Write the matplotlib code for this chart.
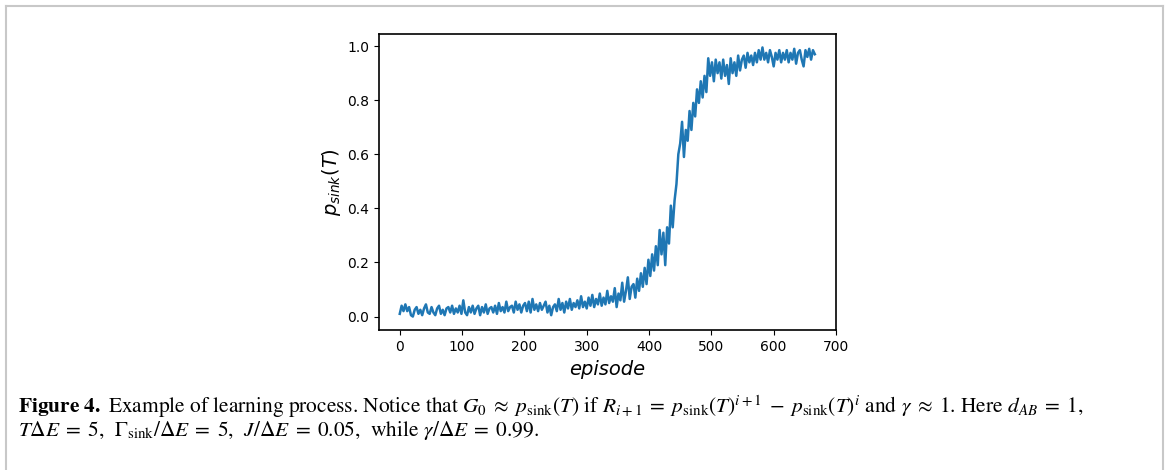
import matplotlib
matplotlib.use('Agg')

import numpy as np
import matplotlib.pyplot as plt
from matplotlib.lines import Line2D

episode_step = 3
p_sink = [
    0.01, 0.04, 0.02, 0.045, 0.02, 0.035, 0.005, 0.0, 0.025, 0.035,
    0.01, 0.025, 0.005, 0.03, 0.045, 0.015, 0.01, 0.035, 0.015, 0.005,
    0.03, 0.04, 0.01, 0.025, 0.005, 0.03, 0.035, 0.015, 0.04, 0.01,
    0.03, 0.015, 0.04, 0.01, 0.06, 0.015, 0.005, 0.035, 0.015, 0.04,
    0.01, 0.03, 0.04, 0.005, 0.035, 0.015, 0.045, 0.01, 0.03, 0.035,
    0.015, 0.04, 0.01, 0.05, 0.02, 0.035, 0.015, 0.055, 0.02, 0.035,
    0.04, 0.015, 0.055, 0.025, 0.045, 0.015, 0.04, 0.05, 0.02, 0.055,
    0.015, 0.065, 0.025, 0.045, 0.02, 0.05, 0.025, 0.04, 0.055, 0.015,
    0.04, 0.005, 0.035, 0.045, 0.02, 0.065, 0.025, 0.05, 0.015, 0.055,
    0.03, 0.065, 0.025, 0.05, 0.035, 0.06, 0.03, 0.075, 0.035, 0.055,
    0.03, 0.07, 0.04, 0.08, 0.035, 0.065, 0.045, 0.085, 0.04, 0.07,
    0.045, 0.095, 0.05, 0.075, 0.055, 0.105, 0.035, 0.085, 0.06, 0.125,
    0.055, 0.095, 0.145, 0.065, 0.11, 0.12, 0.07, 0.14, 0.095, 0.16,
    0.11, 0.18, 0.12, 0.21, 0.15, 0.23, 0.17, 0.26, 0.19, 0.32,
    0.23, 0.31, 0.19, 0.33, 0.27, 0.41, 0.33, 0.43, 0.49, 0.6,
    0.64, 0.72, 0.59, 0.69, 0.65, 0.76, 0.69, 0.79, 0.74, 0.84,
    0.79, 0.87, 0.81, 0.89, 0.83, 0.955, 0.89, 0.94, 0.87, 0.95,
    0.9, 0.94, 0.88, 0.95, 0.89, 0.93, 0.86, 0.955, 0.9, 0.94,
    0.89, 0.965, 0.91, 0.95, 0.965, 0.92, 0.975, 0.94, 0.965, 0.93,
    0.975, 0.94, 0.985, 0.95, 0.995, 0.95, 0.975, 0.94, 0.985, 0.96,
    0.925, 0.975, 0.95, 0.985, 0.94, 0.975, 0.95, 0.985, 0.94, 0.975,
    0.95, 0.99, 0.935, 0.975, 0.985, 0.95, 0.925, 0.985, 0.96, 0.99,
    0.95, 0.985, 0.97,
]
episodes = np.arange(len(p_sink)) * episode_step

caption_1 = (r"$\mathbf{Figure\ 4.}$ Example of learning process. Notice that "
             r"$G_0\;\approx\;p_{\rm sink}(T)$ if $R_{i+1}\;=\;p_{\rm sink}(T)^{i+1}\;-\;p_{\rm sink}(T)^{i}$"
             r" and $\gamma\;\approx\;1$. Here $d_{AB}\;=\;1$,")
caption_2 = (r"$T\Delta E\;=\;5$,  $\Gamma_{\rm sink}/\Delta E\;=\;5$,  $J/\Delta E\;=\;0.05$,"
             r"  while $\gamma/\Delta E\;=\;0.99$.")

W, H = 1165, 470
fig = plt.figure(figsize=(W / 100, H / 100), dpi=100)
ax = fig.add_axes([379 / W, 1 - 330 / H, (836 - 379) / W, (330 - 34) / H])

ax.plot(episodes, p_sink, color='#1f77b4', lw=1.8)
ax.set_xticks([0, 100, 200, 300, 400, 500, 600, 700])
ax.set_yticks([0.0, 0.2, 0.4, 0.6, 0.8, 1.0])
ax.tick_params(labelsize=10)
for s in ax.spines.values():
    s.set_linewidth(1.2)
ax.set_xlabel('episode', fontsize=14, style='italic')
ax.set_ylabel(r'$p_{sink}(T)$', fontsize=14, math_fontfamily='dejavusans')
ax.xaxis.set_label_coords(0.5, -0.10)
ax.yaxis.set_label_coords(-0.078, 0.5)

# caption under the plot
fig.text(18 / W, 1 - 413 / H, caption_1, fontsize=15.4, family='STIXGeneral',
         math_fontfamily='stix', va='baseline')
fig.text(18 / W, 1 - 436 / H, caption_2, fontsize=15.4, family='STIXGeneral',
         math_fontfamily='stix', va='baseline')

# page frame (left, top, right)
grey = '#c8c8c8'
fig.add_artist(Line2D([6 / W, 6 / W], [0, 1 - 6 / H], transform=fig.transFigure, color=grey, lw=1.5))
fig.add_artist(Line2D([6 / W, 1163 / W], [1 - 6 / H, 1 - 6 / H], transform=fig.transFigure, color=grey, lw=1.5))
fig.add_artist(Line2D([1163 / W, 1163 / W], [0, 1 - 6 / H], transform=fig.transFigure, color=grey, lw=1.5))

fig.savefig('out.png', dpi=100, facecolor='white')
